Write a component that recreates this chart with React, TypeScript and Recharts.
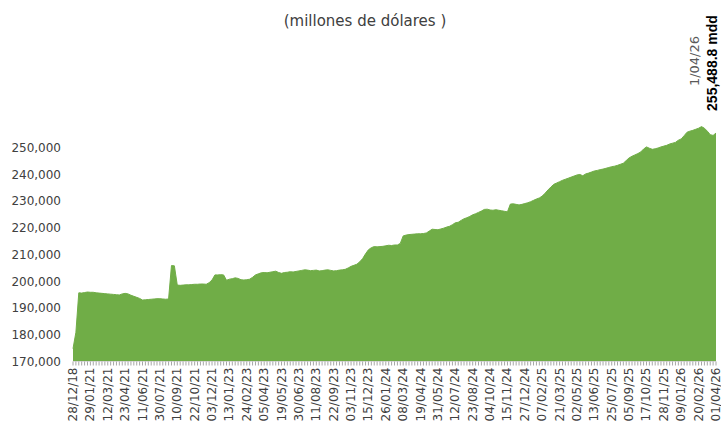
import React from 'react';
import { AreaChart, Area, XAxis, YAxis, LabelList } from 'recharts';

const tickLabels = [
  '28/12/18', '29/01/21', '12/03/21', '23/04/21', '11/06/21', '30/07/21', '10/09/21', '22/10/21',
  '03/12/21', '13/01/23', '24/02/23', '05/04/23', '19/05/23', '30/06/23', '11/08/23', '22/09/23',
  '03/11/23', '15/12/23', '26/01/24', '08/03/24', '19/04/24', '31/05/24', '12/07/24', '23/08/24',
  '04/10/24', '15/11/24', '27/12/24', '07/02/25', '21/03/25', '02/05/25', '13/06/25', '25/07/25',
  '05/09/25', '17/10/25', '28/11/25', '09/01/26', '20/02/26', '01/04/26',
];

const reserves = [
  174800, 180900, 195700, 195600, 195800, 196000,
  195900, 195900, 195700, 195600, 195500, 195400,
  195300, 195200, 195100, 195000, 194900, 195300,
  195500, 195300, 194800, 194400, 194000, 193600,
  193000, 193100, 193200, 193300, 193400, 193500,
  193500, 193400, 193300, 193400, 205900, 205800,
  198600, 198500, 198600, 198700, 198700, 198800,
  198900, 198900, 199000, 199000, 198900, 199500,
  200500, 202400, 202400, 202500, 202400, 200400,
  200800, 201000, 201300, 201100, 200600, 200500,
  200600, 200800, 201500, 202400, 202800, 203200,
  203300, 203200, 203400, 203600, 203800, 203300,
  203000, 203300, 203400, 203600, 203500, 203700,
  203900, 204100, 204300, 204200, 204000, 204100,
  204200, 203900, 204000, 204200, 204300, 204100,
  203900, 204000, 204200, 204300, 204500, 205000,
  205600, 206000, 206400, 207300, 208500, 210300,
  211800, 212600, 213000, 212900, 213000, 213100,
  213300, 213500, 213400, 213600, 213600, 214200,
  217000, 217300, 217500, 217600, 217700, 217800,
  217800, 217900, 218100, 218800, 219500, 219400,
  219300, 219600, 219900, 220300, 220600, 221200,
  221900, 222100, 222800, 223400, 223800, 224300,
  224900, 225300, 225800, 226300, 226900, 227000,
  226700, 226600, 226800, 226600, 226400, 226200,
  226000, 228900, 229000, 228800, 228600, 228800,
  229100, 229400, 229800, 230300, 230800, 231200,
  231900, 233000, 234200, 235300, 236300, 236800,
  237300, 237800, 238200, 238600, 239000, 239400,
  239800, 240000, 239500, 240200, 240500, 240900,
  241300, 241500, 241800, 242000, 242300, 242600,
  242900, 243100, 243400, 243800, 244200, 245200,
  246200, 246800, 247300, 247800, 248400, 249500,
  250300, 249800, 249400, 249600, 249900, 250300,
  250600, 250900, 251400, 251700, 252000, 252800,
  253300, 254500, 255800, 256200, 256500, 256900,
  257300, 257900, 257300, 256200, 254900, 254600,
  255488.8,
];

const yTicks = [170000, 180000, 190000, 200000, 210000, 220000, 230000, 240000, 250000];
const lastDateLabel = '1/04/26';
const lastValueLabel = '255,488.8 mdd';
const title = '(millones de dólares )';

const LABEL_STEP = 6;
const data = reserves.map((v, i) => ({ i, v }));
const allTicks = data.map((d) => d.i);
const lastIndex = reserves.length - 1;

const fmt = (n: number) => n.toLocaleString('en-US');

const XTick = (props: any) => {
  const { x, y, payload } = props;
  const idx = payload.value as number;
  if (idx % LABEL_STEP !== 0) return null;
  const label = tickLabels[idx / LABEL_STEP];
  if (!label) return null;
  return (
    <text
      transform={`translate(${x},${y}) rotate(-90)`}
      x={0}
      y={0}
      textAnchor="end"
      dominantBaseline="central"
      fontFamily="DejaVu Sans"
      fontSize={12}
      fill="#404040"
    >
      {label}
    </text>
  );
};

const EndLabel = (props: any) => {
  const { x, y, index } = props;
  if (index !== lastIndex) return null;
  const bx = x - 4;
  const by = y - 70;
  const nx = x - 22;
  const ny = y - 72;
  return (
    <g>
      <text
        transform={`translate(${nx},${ny}) rotate(-90)`}
        textAnchor="middle"
        dominantBaseline="central"
        fontFamily="DejaVu Sans"
        fontSize={13}
        fill="#595959"
      >
        {lastDateLabel}
      </text>
      <text
        transform={`translate(${bx},${by}) rotate(-90)`}
        textAnchor="middle"
        dominantBaseline="central"
        fontFamily="Liberation Sans"
        fontWeight="bold"
        fontSize={14}
        fill="#000000"
      >
        {lastValueLabel}
      </text>
    </g>
  );
};

export default function App() {
  return (
    <div style={{ position: 'absolute', left: 0, top: 0, width: 721, height: 423, background: '#fff' }}>
      <div
        style={{
          position: 'absolute',
          left: 0,
          top: 12,
          width: 730,
          textAlign: 'center',
          fontFamily: 'DejaVu Sans',
          fontSize: 15,
          color: '#404040',
        }}
      >
        {title}
      </div>
      <AreaChart
        width={721}
        height={423}
        data={data}
        margin={{ top: 121, right: 5, left: 0, bottom: 0 }}
      >
        <XAxis
          dataKey="i"
          type="number"
          domain={[0, lastIndex]}
          ticks={allTicks}
          interval={0}
          height={61.5}
          tick={<XTick />}
          tickSize={4}
          tickMargin={2}
          tickLine={{ stroke: '#a6a6a6' }}
          axisLine={{ stroke: '#d9d9d9' }}
          allowDecimals={false}
        />
        <YAxis
          domain={[170000, 260000]}
          ticks={yTicks}
          width={73}
          tickSize={0}
          tickMargin={12}
          axisLine={false}
          tickLine={false}
          tickFormatter={fmt}
          tick={{ fontFamily: 'DejaVu Sans', fontSize: 12, fill: '#404040' }}
          allowDataOverflow
        />
        <Area
          type="linear"
          dataKey="v"
          stroke="#70AD47"
          strokeWidth={1}
          fill="#70AD47"
          fillOpacity={1}
          baseValue={170000}
          isAnimationActive={false}
          dot={false}
          activeDot={false}
        >
          <LabelList dataKey="v" content={<EndLabel />} />
        </Area>
      </AreaChart>
    </div>
  );
}
